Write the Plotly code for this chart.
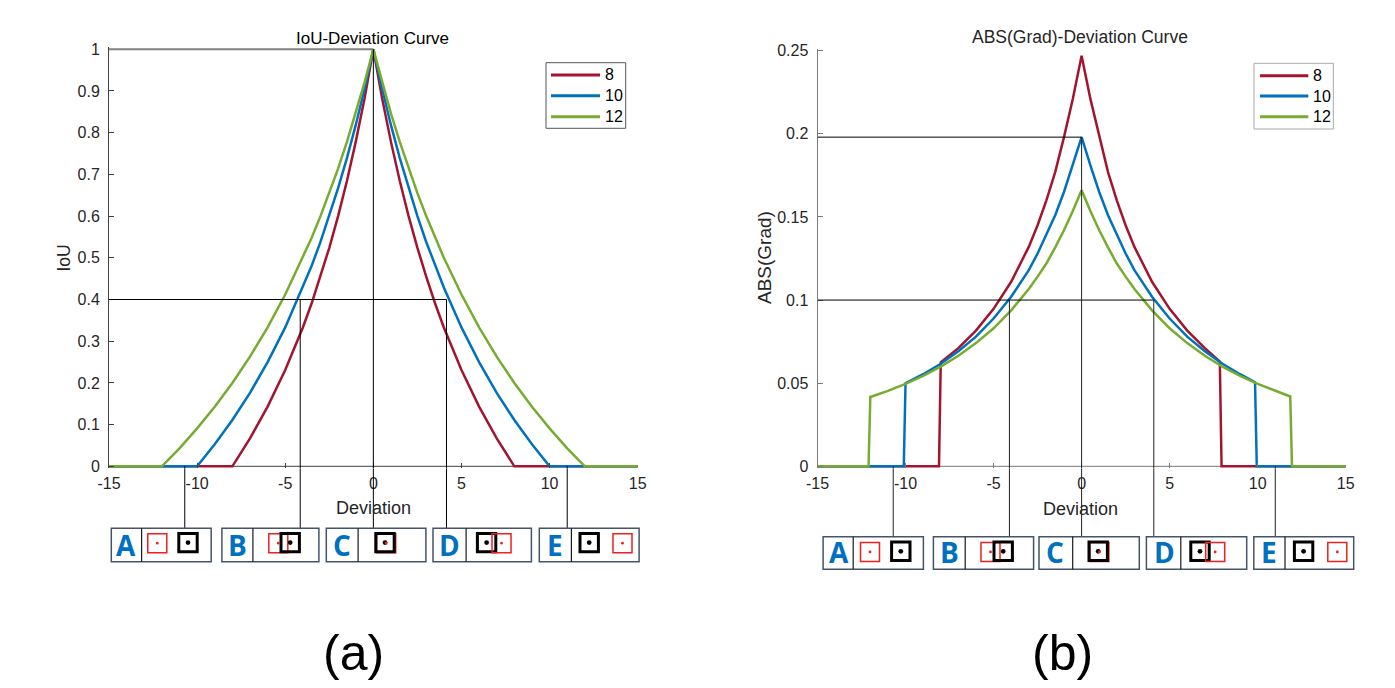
import plotly.graph_objects as go

W, H = 1395, 688

# ---------------- data ----------------
series_names = ["8", "10", "12"]

iou_dev = [-15, -14, -13, -12, -11, -10, -9, -8, -7, -6, -5, -4,
           -3.5, -3, -2.5, -2, -1.5, -1, -0.5, 0, 0.5, 1, 1.5, 2, 2.5, 3, 3.5,
           4, 5, 6, 7, 8, 9, 10, 11, 12, 13, 14, 15]
iou_8 = [0, 0, 0, 0, 0, 0, 0, 0, 0.067, 0.143, 0.231, 0.333,
         0.391, 0.455, 0.524, 0.6, 0.684, 0.778, 0.882, 1, 0.882, 0.778, 0.684, 0.6, 0.524, 0.455, 0.391,
         0.333, 0.231, 0.143, 0.067, 0, 0, 0, 0, 0, 0, 0, 0]
iou_10 = [0, 0, 0, 0, 0, 0, 0.053, 0.111, 0.176, 0.25, 0.333, 0.429,
          0.481, 0.538, 0.6, 0.667, 0.739, 0.818, 0.905, 1, 0.905, 0.818, 0.739, 0.667, 0.6, 0.538, 0.481,
          0.429, 0.333, 0.25, 0.176, 0.111, 0.053, 0, 0, 0, 0, 0, 0]
iou_12 = [0, 0, 0, 0, 0.043, 0.091, 0.143, 0.2, 0.263, 0.333, 0.412, 0.5,
          0.548, 0.6, 0.655, 0.714, 0.778, 0.846, 0.92, 1, 0.92, 0.846, 0.778, 0.714, 0.655, 0.6, 0.548,
          0.5, 0.412, 0.333, 0.263, 0.2, 0.143, 0.091, 0.043, 0, 0, 0, 0]

grad_dev_8 = [-15, -8.1, -8, -7, -6, -5, -4, -3, -2.5, -2, -1.5, -1, -0.5, 0,
              0.5, 1, 1.5, 2, 2.5, 3, 4, 5, 6, 7, 7.85, 7.95, 15]
grad_8 = [0, 0, 0.0625, 0.0711, 0.0816, 0.0947, 0.111, 0.132, 0.145, 0.16, 0.177, 0.198, 0.221, 0.247,
          0.221, 0.198, 0.177, 0.16, 0.145, 0.132, 0.111, 0.0947, 0.0816, 0.0711, 0.063, 0, 0]
grad_dev_10 = [-15, -10.1, -10, -9, -8, -7, -6, -5, -4, -3, -2.5, -2, -1.5, -1, -0.5, 0,
               0.5, 1, 1.5, 2, 2.5, 3, 4, 5, 6, 7, 8, 9, 9.85, 9.95, 15]
grad_10 = [0, 0, 0.05, 0.0554, 0.0617, 0.0692, 0.078, 0.0889, 0.102, 0.118, 0.128, 0.139, 0.151, 0.165, 0.181, 0.198,
           0.181, 0.165, 0.151, 0.139, 0.128, 0.118, 0.102, 0.0889, 0.078, 0.0692, 0.0617, 0.0554, 0.0505, 0, 0]
grad_dev_12 = [-15, -12.1, -12, -11, -10, -9, -8, -7, -6, -5, -4, -3, -2.5, -2, -1.5, -1, -0.5, 0,
               0.5, 1, 1.5, 2, 2.5, 3, 4, 5, 6, 7, 8, 9, 10, 11, 11.85, 11.95, 15]
grad_12 = [0, 0, 0.0417, 0.0454, 0.0496, 0.0544, 0.06, 0.0665, 0.0741, 0.083, 0.0938, 0.1067, 0.1141, 0.122, 0.1317, 0.142, 0.1536, 0.166,
           0.1536, 0.142, 0.1317, 0.122, 0.1141, 0.1067, 0.0938, 0.083, 0.0741, 0.0665, 0.06, 0.0544, 0.0496, 0.0454, 0.042, 0, 0]

x_ticks = [-15, -10, -5, 0, 5, 10, 15]
x_tick_labels = ["-15", "-10", "-5", "0", "5", "10", "15"]
iou_ticks = [0, 0.1, 0.2, 0.3, 0.4, 0.5, 0.6, 0.7, 0.8, 0.9, 1]
iou_tick_labels = ["0", "0.1", "0.2", "0.3", "0.4", "0.5", "0.6", "0.7", "0.8", "0.9", "1"]
grad_ticks = [0, 0.05, 0.1, 0.15, 0.2, 0.25]
grad_tick_labels = ["0", "0.05", "0.1", "0.15", "0.2", "0.25"]

# reference-line values
iou_top = 1.0
iou_level = 0.4
iou_level_dev = 4.15
grad_peak_level = 0.198
grad_level = 0.1
grad_level_dev = 4.1
case_letters = ["A", "B", "C", "D", "E"]
iou_case_dev = [-10.7, -4.15, 0, 4.15, 11]
grad_case_dev = [-10.7, -4.1, 0, 4.1, 11]

# ---------------- layout helpers ----------------
def px(x):
    return x / W

def py(y):
    return 1 - y / H

RED, BLUE, GREEN = "#A2142F", "#0072BD", "#77AC30"
colors = [RED, BLUE, GREEN]
FONT = "Liberation Sans, Arial, sans-serif"
TXT = "#262626"

# pixel frames: (x left, x right, px of y-min value, px of y-max value)
L_FRAME = (109.0, 637.7, 466.3, 49.3)
R_FRAME = (817.5, 1345.7, 466.3, 50.7)

def y_axis_setup(frame, lo, hi, pad):
    ppu = (frame[2] - frame[3]) / (hi - lo)
    bottom_px = frame[2] + pad * ppu
    top_px = frame[3] - pad * ppu
    return [lo - pad, hi + pad], [py(bottom_px), py(top_px)]

l_range, l_dom = y_axis_setup(L_FRAME, 0, 1, 0.005)
r_range, r_dom = y_axis_setup(R_FRAME, 0, 0.25, 0.00125)

fig = go.Figure()
for name, yv, c in zip(series_names, [iou_8, iou_10, iou_12], colors):
    fig.add_trace(go.Scatter(x=iou_dev, y=yv, name=name, mode="lines",
                             line=dict(color=c, width=2.5), xaxis="x", yaxis="y",
                             showlegend=False))
for name, xv, yv, c in zip(series_names, [grad_dev_8, grad_dev_10, grad_dev_12],
                           [grad_8, grad_10, grad_12], colors):
    fig.add_trace(go.Scatter(x=xv, y=yv, name=name, mode="lines",
                             line=dict(color=c, width=2.5), xaxis="x2", yaxis="y2",
                             showlegend=False))

shapes = []
annotations = []

def line(xref, yref, x0, y0, x1, y1, color="black", width=1, layer="above"):
    shapes.append(dict(type="line", xref=xref, yref=yref, x0=x0, y0=y0, x1=x1, y1=y1,
                       line=dict(color=color, width=width), layer=layer))

def rect(x0, y0, x1, y1, color, width):
    shapes.append(dict(type="rect", xref="paper", yref="paper",
                       x0=px(x0), y0=py(y0), x1=px(x1), y1=py(y1),
                       line=dict(color=color, width=width), fillcolor="rgba(0,0,0,0)"))

def dot(cx, cy, r, color):
    shapes.append(dict(type="circle", xref="paper", yref="paper",
                       x0=px(cx - r), y0=py(cy - r), x1=px(cx + r), y1=py(cy + r),
                       line=dict(color=color, width=0), fillcolor=color))

def text(x, y, s, size, color=TXT, angle=0, anchor="center", family=FONT, bold=False):
    if bold:
        s = "<b>" + s + "</b>"
    annotations.append(dict(xref="paper", yref="paper", x=px(x), y=py(y), text=s,
                            showarrow=False, xanchor=anchor, yanchor="middle",
                            textangle=angle, font=dict(family=family, size=size, color=color)))

# x axis base lines (drawn below curves)
line("x", "y", -15, 0, 15, 0, "#404040", 1, "below")
line("x2", "y2", -15, 0, 15, 0, "#7a7a7a", 1, "below")

# ---- reference lines, left ----
line("x", "y", -15, iou_top, 0, iou_top, "#808080", 2)
line("x", "y", -15, iou_level, iou_level_dev, iou_level, "black", 1)
L_BOX_TOP = 528.3
tops_l = [0, iou_level, iou_top, iou_level, 0]
for d, t in zip(iou_case_dev, tops_l):
    line("x", "y", d, t, d, l_range[0], "black", 1)
    line("x", "paper", d, l_dom[0], d, py(L_BOX_TOP), "black", 1)

# ---- reference lines, right ----
line("x2", "y2", -15, grad_peak_level, 0, grad_peak_level, "black", 1)
line("x2", "y2", -15, grad_level, grad_level_dev, grad_level, "black", 1)
R_BOX_TOP = 536.7
tops_r = [0, grad_level, grad_peak_level, grad_level, 0]
for d, t in zip(grad_case_dev, tops_r):
    line("x2", "y2", d, t, d, r_range[0], "#222", 1)
    line("x2", "paper", d, r_dom[0], d, py(R_BOX_TOP), "#222", 1)

# ---- case boxes (layout geometry) ----
# (x0, divider, x1, letter x, red centre x, black centre x)
left_boxes = [(111.3, 141.6, 211.2, 126.3, 157.3, 188.0),
              (221.9, 252.9, 318.9, 237.2, 278.3, 290.2),
              (326.3, 358.1, 425.9, 342.4, 386.2, 385.0),
              (433.0, 466.1, 531.4, 449.4, 501.5, 486.6),
              (539.3, 571.4, 639.1, 554.6, 622.5, 589.2)]
right_boxes = [(823.1, 853.2, 923.4, 838.9, 870.0, 900.8),
               (933.4, 965.2, 1033.6, 949.1, 990.5, 1003.2),
               (1039.0, 1072.7, 1139.3, 1054.8, 1099.4, 1098.2),
               (1146.4, 1180.8, 1246.7, 1164.0, 1215.2, 1200.0),
               (1253.8, 1285.0, 1353.7, 1268.9, 1337.3, 1303.6)]

def draw_boxes(boxes, y0, y1, cy, letter_y):
    for letter, (x0, xd, x1, lx, rcx, bcx) in zip(case_letters, boxes):
        rect(x0, y0, x1, y1, "#44546A", 1.5)
        line("paper", "paper", px(xd), py(y0), px(xd), py(y1), "#1a1a1a", 1.2)
        text(lx, letter_y, letter, 28, "#0070C0", family="Open Sans, Liberation Sans, sans-serif", bold=True)
        hb, hr = 9.2, 9.5
        if letter == "D":
            rect(bcx - hb, cy - hb, bcx + hb, cy + hb, "black", 3)
            rect(rcx - hr, cy + 0.6 - hr, rcx + hr, cy + 0.6 + hr, "#F01E1E", 1.5)
        else:
            rect(rcx - hr, cy + 0.6 - hr, rcx + hr, cy + 0.6 + hr, "#F01E1E", 1.5)
            rect(bcx - hb, cy - hb, bcx + hb, cy + hb, "black", 3)
        dot(bcx, cy, 2.4, "black")
        dot(rcx, cy + 0.6, 1.4, "#F01E1E")

draw_boxes(left_boxes, 528.3, 561.7, 542.6, 545.0)
draw_boxes(right_boxes, 536.7, 569.3, 551.3, 552.3)

# ---- manual legends ----
def legend(x0, y0, x1, y1, lx0, lx1, tx, ys, border):
    rect(x0, y0, x1, y1, border, 1)
    for name, c, yy in zip(series_names, colors, ys):
        line("paper", "paper", px(lx0), py(yy), px(lx1), py(yy), c, 3)
        text(tx, yy, name, 16, "black", anchor="left")

legend(546.0, 62.7, 625.7, 128.3, 551.0, 600.0, 602.5, [75.0, 95.7, 116.7], "#555555")
legend(1254.0, 63.3, 1333.3, 129.0, 1260.0, 1308.3, 1310.5, [75.7, 96.0, 116.7], "#a8a8a8")

# ---- titles and axis labels ----
text(372, 38.3, "IoU-Deviation Curve", 17, "black")
text(1080, 36.7, "ABS(Grad)-Deviation Curve", 17.5, TXT)
text(373, 508, "Deviation", 18, TXT)
text(1080, 509, "Deviation", 18, TXT)
text(63.5, 258, "IoU", 17.5, TXT, angle=-90)
text(764, 258, "ABS(Grad)", 19, TXT, angle=-90)
text(353, 652.5, "(a)", 50, "black")
text(1062, 652.5, "(b)", 50, "black")

tickfont = dict(family=FONT, size=16, color=TXT)
common_x = dict(range=[-15, 15], tickvals=x_ticks, ticktext=x_tick_labels, ticks="inside",
                ticklen=5, showline=False, showgrid=False, zeroline=False, automargin=False,
                tickfont=tickfont, ticklabelstandoff=4)
common_y = dict(ticks="inside", ticklen=5, showline=True, linewidth=1, automargin=False,
                showgrid=False, zeroline=False, tickfont=tickfont, ticklabelstandoff=5)

fig.update_layout(
    width=W, height=H, margin=dict(l=0, r=0, t=0, b=0, pad=0, autoexpand=False), autosize=False,
    paper_bgcolor="white", plot_bgcolor="white", showlegend=False,
    xaxis=dict(domain=[px(L_FRAME[0]), px(L_FRAME[1])], anchor="y", tickcolor="#404040", **common_x),
    yaxis=dict(domain=l_dom, range=l_range, anchor="x", tickvals=iou_ticks, ticktext=iou_tick_labels,
               linecolor="#404040", tickcolor="#404040", **common_y),
    xaxis2=dict(domain=[px(R_FRAME[0]), px(R_FRAME[1])], anchor="y2", tickcolor="#7a7a7a", **common_x),
    yaxis2=dict(domain=r_dom, range=r_range, anchor="x2", tickvals=grad_ticks, ticktext=grad_tick_labels,
                linecolor="#7a7a7a", tickcolor="#7a7a7a", **common_y),
    shapes=shapes, annotations=annotations,
)

fig.write_html(
    "out.html",
    config={"responsive": False, "displayModeBar": False},
    post_script="document.documentElement.style.margin='0';document.body.style.margin='0';"
                "document.body.style.padding='0';document.body.style.overflow='hidden';",
)
